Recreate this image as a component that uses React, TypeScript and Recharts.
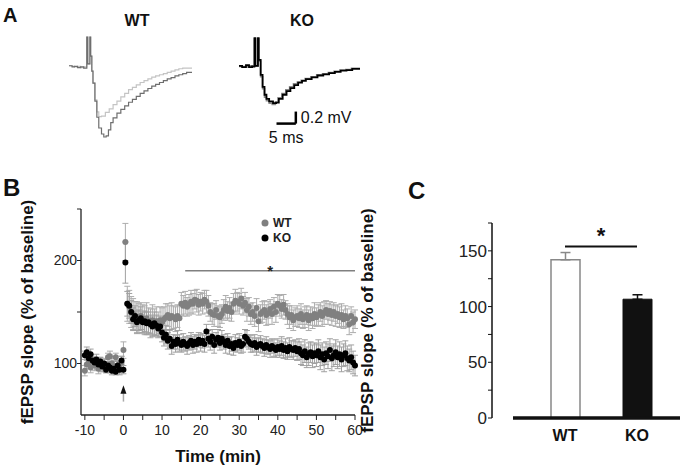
import React from 'react';
import {
  LineChart, Line, ScatterChart, Scatter, BarChart, Bar, ErrorBar, XAxis, YAxis,
  ReferenceLine, ReferenceDot, Legend,
} from 'recharts';

const FONT = '"Liberation Sans", Arial, Helvetica, sans-serif';

// ---- Panel A: example fEPSP traces, [time (ms), voltage (mV)] ----
const wtTraceLight: number[][] = [
  [-4.4, -0.01], [-3.6, -0.02], [-3.0, -0.03], [-2.2, -0.02], [-1.4, -0.04], [-0.6, -0.03],
  [0.2, 0.47], [0.45, 0.02], [1.0, 0.47], [1.2, 0.15], [1.5, -0.1], [1.8, -0.3], [2.3, -0.58],
  [2.8, -0.78], [3.3, -0.86], [4.0, -0.85], [5, -0.79], [6, -0.73], [7, -0.66], [8, -0.6],
  [9, -0.53], [10, -0.47], [11, -0.41], [12, -0.37], [13, -0.33], [14, -0.29], [15, -0.26],
  [16, -0.23], [17, -0.2], [18, -0.18], [19, -0.16], [20, -0.14], [21, -0.12], [22, -0.1],
  [23, -0.08], [24, -0.06], [25, -0.05], [26, -0.05], [27.4, -0.04],
];
const wtTraceGray: number[][] = [
  [-4.4, -0.01], [-3.6, -0.03], [-3.0, -0.02], [-2.2, -0.04], [-1.4, -0.03], [-0.6, -0.05],
  [0.2, 0.47], [0.45, 0.02], [1.0, 0.47], [1.2, 0.15], [1.5, -0.1], [1.8, -0.3], [2.3, -0.6],
  [2.8, -0.87], [3.3, -1.05], [4.0, -1.15], [4.6, -1.2], [5.2, -1.18], [5.8, -1.08], [6.4, -0.96],
  [7, -0.88], [8, -0.8], [9, -0.74], [10, -0.68], [11, -0.62], [12, -0.57], [13, -0.52],
  [14, -0.47], [15, -0.43], [16, -0.39], [17, -0.35], [18, -0.32], [19, -0.29], [20, -0.26],
  [21, -0.23], [22, -0.21], [23, -0.18], [24, -0.16], [25, -0.14], [26, -0.12], [27.4, -0.11],
];
const koTraceGray: number[][] = [
  [-3.8, -0.01], [-3.0, -0.01], [-2.0, -0.02], [-1.2, 0.0], [-0.4, -0.02], [0.2, 0.45],
  [0.45, 0.0], [1.1, 0.45], [1.3, 0.08], [1.8, -0.18], [2.3, -0.38], [2.8, -0.52], [3.3, -0.58],
  [4.0, -0.62], [4.8, -0.64], [5.6, -0.6], [6.3, -0.53], [7.3, -0.46], [8.3, -0.4], [9.3, -0.35],
  [10.3, -0.3], [11.3, -0.27], [12.3, -0.24], [13.3, -0.21], [14.8, -0.18], [16.3, -0.15],
  [17.8, -0.13], [19.3, -0.11], [20.8, -0.09], [22.3, -0.07], [23.8, -0.06], [25.3, -0.04],
  [27.5, -0.03],
];
const koTraceBlack: number[][] = [
  [-3.8, 0.0], [-3.0, -0.02], [-2.0, 0.01], [-1.2, -0.02], [-0.4, -0.01], [0.2, 0.46],
  [0.45, 0.0], [1.1, 0.46], [1.3, 0.1], [1.8, -0.15], [2.3, -0.35], [2.8, -0.48], [3.3, -0.55],
  [4.0, -0.59], [5.0, -0.62], [5.8, -0.61], [6.5, -0.55], [7.5, -0.48], [8.5, -0.42], [9.5, -0.37],
  [10.5, -0.32], [11.5, -0.28], [12.5, -0.25], [13.5, -0.22], [15, -0.19], [16.5, -0.16],
  [18, -0.14], [19.5, -0.12], [21, -0.1], [22.5, -0.08], [24, -0.07], [25.5, -0.05], [27.5, -0.05],
];
// scale bar: 5 ms x 0.2 mV
const scaleBarStart = 5.9;
const scaleBarMs = 5;
const scaleBarMv = 0.2;
const scaleBarLevel = -0.96;

// ---- Panel B: fEPSP slope (% of baseline), one sample every 0.5 min from -10 min ----
const firstMinute = -10;
const sampleStep = 0.5;
const wtSlope = [
  93, 99, 101, 96, 103, 98, 100, 95, 102, 97, 99, 96, 106, 107, 100, 97, 106, 98, 96, 101, 113,
  218, 158, 155, 150, 148, 146, 145, 144, 146, 143,
  142, 144, 141, 139, 142, 140, 141, 138, 142, 140,
  143, 145, 147, 144, 146, 145, 143, 146, 144, 158,
  156, 159, 155, 157, 160, 158, 162, 161, 157, 160,
  158, 162, 160, 156, 150, 148, 147, 152, 146, 145,
  148, 152, 155, 151, 154, 150, 158, 161, 160, 158,
  163, 156, 159, 152, 155, 148, 150, 146, 154, 141,
  148, 150, 152, 147, 149, 153, 148, 155, 150, 158,
  156, 153, 157, 152, 148, 145, 147, 142, 145, 146,
  144, 148, 143, 145, 147, 142, 146, 144, 148, 145,
  147, 150, 146, 149, 152, 148, 151, 147, 150, 146,
  148, 145, 147, 143, 146, 144, 138, 146, 140, 143,
];
const wtSem = [
  5, 4, 6, 5, 4, 5, 6, 5, 4, 5, 6, 5, 4, 5, 5, 6, 4, 5, 5, 6, 8,
  18, 17, 16, 15, 15, 14, 15, 14, 13, 14,
  14, 15, 13, 14, 15, 13, 14, 12, 13, 14,
  12, 13, 11, 12, 13, 11, 12, 11, 12, 11,
  10, 11, 9, 10, 11, 10, 9, 11, 10, 9,
  10, 9, 11, 10, 9, 10, 11, 9, 10, 10,
  9, 10, 11, 9, 10, 9, 10, 11, 9, 10,
  10, 9, 10, 11, 9, 10, 9, 10, 9, 10,
  9, 10, 9, 10, 11, 9, 10, 9, 10, 9,
  10, 9, 10, 9, 10, 11, 9, 10, 9, 10,
  9, 10, 9, 10, 9, 10, 9, 10, 11, 9,
  10, 9, 10, 11, 9, 10, 9, 10, 9, 10,
  9, 10, 11, 9, 10, 9, 10, 9, 10, 9,
];
const koSlope = [
  108, 111, 105, 109, 103, 101, 104, 99, 102, 97, 100, 94, 98, 96, 93, 95, 92, 98, 94, 103, 94,
  198, 158, 156, 150, 143, 146, 140, 142, 144, 140,
  141, 139, 140, 138, 136, 139, 137, 134, 136, 130,
  125, 128, 122, 124, 117, 121, 119, 123, 120, 118,
  121, 119, 117, 120, 122, 118, 121, 119, 123, 120,
  122, 119, 131, 124, 121, 126, 118, 123, 125, 120,
  124, 121, 118, 122, 117, 119, 115, 120, 118, 121,
  117, 119, 126, 124, 121, 119, 118, 120, 116, 118,
  119, 117, 115, 118, 116, 114, 117, 115, 113, 116,
  114, 117, 113, 115, 112, 116, 114, 113, 115, 112,
  114, 110, 108, 112, 106, 109, 111, 107, 110, 108,
  112, 106, 109, 104, 110, 107, 113, 105, 108, 111,
  106, 109, 104, 108, 110, 105, 103, 106, 101, 98,
];
const koSem = [
  4, 5, 4, 5, 3, 4, 5, 4, 4, 5, 4, 3, 4, 5, 4, 4, 3, 4, 5, 4, 4,
  20, 12, 12, 11, 11, 10, 11, 10, 11, 10,
  10, 11, 10, 9, 10, 11, 10, 9, 10, 9,
  8, 9, 8, 9, 8, 7, 8, 9, 8, 7,
  8, 7, 8, 7, 8, 8, 7, 8, 7, 8,
  7, 8, 7, 8, 8, 7, 8, 7, 8, 7,
  8, 7, 8, 7, 8, 7, 7, 8, 7, 8,
  7, 8, 7, 8, 7, 8, 7, 8, 8, 7,
  8, 7, 8, 8, 7, 8, 7, 8, 7, 8,
  8, 9, 8, 9, 8, 9, 8, 9, 8, 9,
  10, 11, 10, 11, 10, 11, 10, 11, 10, 11,
  11, 12, 11, 12, 11, 12, 11, 12, 11, 12,
  11, 12, 12, 11, 12, 12, 11, 12, 11, 10,
];
const bXTicks = [-10, -5, 0, 5, 10, 15, 20, 25, 30, 35, 40, 45, 50, 55, 60];
const bYTicks = [100, 150, 200, 250];
const bSigFrom = 16;
const bSigTo = 60;
const bSigLevel = 190;

// ---- Panel C: mean fEPSP slope 55-60 min ----
const groups = ['WT', 'KO'];
const groupMean = [142, 106.6];
const groupSem = [6.5, 4];
const cYTicks = [0, 25, 50, 75, 100, 125, 150, 175];
const cSigLevel = 154;

const toXY = (arr: number[][]) => arr.map(([t, v]) => ({ t, v }));
const slopePoints = (vals: number[], sems: number[]) =>
  vals.map((v, i) => ({ t: firstMinute + i * sampleStep, v, err: sems[i] }));

const wtPoints = slopePoints(wtSlope, wtSem);
const koPoints = slopePoints(koSlope, koSem);

const cData = groups.map((name, i) => ({
  name,
  wt: name === 'WT' ? groupMean[i] : undefined,
  wtErr: name === 'WT' ? [0, groupSem[i]] : undefined,
  ko: name === 'KO' ? groupMean[i] : undefined,
  koErr: name === 'KO' ? [0, groupSem[i]] : undefined,
}));

const dot = (color: string) => (p: any) => <circle cx={p.cx} cy={p.cy} r={3} fill={color} />;

const arrowHead = (p: any) => (
  <polygon points={`${p.cx},${p.cy - 4} ${p.cx - 3},${p.cy + 4.5} ${p.cx + 3},${p.cy + 4.5}`} fill="#111" />
);

function BLegend({ payload }: any) {
  const items = [...(payload || [])].sort(
    (a: any, b: any) => groups.indexOf(a.value) - groups.indexOf(b.value),
  );
  return (
    <div style={{ fontFamily: FONT, fontWeight: 'bold', fontSize: 12, color: '#222' }}>
      {items.map((entry: any) => (
        <div key={entry.value} style={{ display: 'flex', alignItems: 'center', height: 15.4 }}>
          <svg width={10} height={10}>
            <circle cx={5} cy={5} r={3.5} fill={entry.color} />
          </svg>
          <span style={{ marginLeft: 3 }}>{entry.value}</span>
        </div>
      ))}
    </div>
  );
}

const text = (size: number, bold = true): React.CSSProperties => ({
  position: 'absolute', fontFamily: FONT, fontSize: size, fontWeight: bold ? 'bold' : 'normal',
  lineHeight: 1, color: '#111', whiteSpace: 'nowrap',
});

export default function App() {
  return (
    <div style={{ position: 'fixed', left: 0, top: 0, width: 685, height: 476, background: '#fff', overflow: 'hidden' }}>
      <div style={{ ...text(20), left: 3, top: 5 }}>A</div>
      <div style={{ ...text(24), left: 3, top: 176 }}>B</div>
      <div style={{ ...text(24), left: 408, top: 179 }}>C</div>
      <div style={{ ...text(16), left: 137, top: 13, transform: 'translateX(-50%)' }}>WT</div>
      <div style={{ ...text(16), left: 302, top: 13, transform: 'translateX(-50%)' }}>KO</div>

      {/* A: WT traces */}
      <div style={{ position: 'absolute', left: 69, top: 36 }}>
        <LineChart width={123} height={105} margin={{ top: 1, right: 0, bottom: 1, left: 0 }}>
          <XAxis type="number" dataKey="t" domain={[-4.4, 27.4]} hide />
          <YAxis type="number" dataKey="v" domain={[-1.25, 0.47]} hide />
          <Line data={toXY(wtTraceLight)} dataKey="v" type="stepAfter" stroke="#c4c4c4" strokeWidth={1.2} dot={false} isAnimationActive={false} />
          <Line data={toXY(wtTraceGray)} dataKey="v" type="stepAfter" stroke="#6e6e6e" strokeWidth={1.2} dot={false} isAnimationActive={false} />
        </LineChart>
      </div>

      {/* A: KO traces + scale bar */}
      <div style={{ position: 'absolute', left: 239, top: 36 }}>
        <LineChart width={121} height={114} margin={{ top: 1, right: 0, bottom: 24, left: 0 }}>
          <XAxis type="number" dataKey="t" domain={[-3.8, 27.5]} hide />
          <YAxis type="number" dataKey="v" domain={[-1.0, 0.48]} hide />
          <Line data={toXY(koTraceGray)} dataKey="v" type="stepAfter" stroke="#8a8a8a" strokeWidth={1.6} dot={false} isAnimationActive={false} />
          <Line data={toXY(koTraceBlack)} dataKey="v" type="stepAfter" stroke="#000" strokeWidth={1.8} dot={false} isAnimationActive={false} />
          <ReferenceLine
            segment={[{ x: scaleBarStart, y: scaleBarLevel }, { x: scaleBarStart + scaleBarMs, y: scaleBarLevel }]}
            stroke="#000" strokeWidth={2.5}
            label={{ value: '5 ms', position: 'bottom', offset: 8, fill: '#111', fontSize: 16, fontFamily: FONT }}
          />
          <ReferenceLine
            segment={[{ x: scaleBarStart + scaleBarMs, y: scaleBarLevel }, { x: scaleBarStart + scaleBarMs, y: scaleBarLevel + scaleBarMv }]}
            stroke="#000" strokeWidth={2.5}
            label={{ value: '0.2 mV', position: 'right', offset: 5, fill: '#111', fontSize: 16, fontFamily: FONT }}
          />
        </LineChart>
      </div>

      {/* B: time course */}
      <div style={{ position: 'absolute', left: 0, top: 195 }}>
        <ScatterChart width={372} height={281} margin={{ top: 14, right: 17, bottom: 11, left: 11 }}>
          <XAxis
            type="number" dataKey="t" domain={[-11, 60]} ticks={bXTicks} interval={0}
            tickFormatter={(v: number) => (v % 10 === 0 ? String(v) : '')}
            height={50} tickSize={5} tickMargin={5}
            axisLine={{ stroke: '#222', strokeWidth: 1.3 }} tickLine={{ stroke: '#222' }}
            tick={{ fill: '#222', fontSize: 14, fontFamily: FONT }}
            label={{ value: 'Time (min)', position: 'insideBottom', offset: 3, fill: '#111', style: { fontWeight: 'bold', fontSize: 17, fontFamily: FONT } }}
          />
          <YAxis
            type="number" dataKey="v" domain={[50, 250]} ticks={bYTicks} interval={0}
            tickFormatter={(v: number) => (v === 100 || v === 200 ? String(v) : '')}
            width={70} tickSize={4} tickMargin={0}
            axisLine={{ stroke: '#222', strokeWidth: 1.3 }} tickLine={{ stroke: '#222' }}
            tick={{ fill: '#222', fontSize: 14, fontFamily: FONT }}
            label={{ value: 'fEPSP slope (% of baseline)', angle: -90, position: 'insideLeft', offset: 16, fill: '#111', style: { textAnchor: 'middle', fontWeight: 'bold', fontSize: 17, fontFamily: FONT } }}
          />
          <Legend layout="vertical" align="center" verticalAlign="middle" content={<BLegend />}
            wrapperStyle={{ position: 'absolute', left: 260, top: 20, width: 60 }} />
          <ReferenceLine
            segment={[{ x: bSigFrom, y: bSigLevel }, { x: bSigTo, y: bSigLevel }]}
            stroke="#808080" strokeWidth={1.5}
            label={{ value: '*', position: 'center', fill: '#222', fontSize: 15, fontWeight: 'bold', fontFamily: FONT }}
          />
          <ReferenceLine segment={[{ x: 0, y: 63 }, { x: 0, y: 71 }]} stroke="#aaa" strokeWidth={1.5} />
          <ReferenceDot x={0} y={75} shape={arrowHead} />
          <Scatter name="WT" data={wtPoints} fill="#808080" shape={dot('#808080')} isAnimationActive={false}>
            <ErrorBar dataKey="err" direction="y" width={3} stroke="#adadad" strokeWidth={1} />
          </Scatter>
          <Scatter name="KO" data={koPoints} fill="#000" shape={dot('#000')} isAnimationActive={false}>
            <ErrorBar dataKey="err" direction="y" width={3} stroke="#a0a0a0" strokeWidth={1} />
          </Scatter>
        </ScatterChart>
      </div>

      {/* C: summary bars */}
      <div style={{ position: 'absolute', left: 340, top: 200 }}>
        <BarChart width={345} height={276} data={cData} margin={{ top: 23, right: 5, bottom: 18, left: 22 }}>
          <XAxis
            dataKey="name" padding={{ left: 16, right: 7 }} height={40} tickSize={6} tickMargin={6}
            axisLine={{ stroke: '#111', strokeWidth: 3.5 }} tickLine={false}
            tick={{ fill: '#111', fontSize: 16, fontWeight: 'bold', fontFamily: FONT }}
          />
          <YAxis yAxisId="a" domain={[0, 175]} width={21} axisLine={false} tickLine={false} tick={false} />
          <YAxis
            yAxisId="b" type="number" domain={[0, 175]} ticks={cYTicks} interval={0}
            tickFormatter={(v: number) => (v % 50 === 0 ? String(v) : '')}
            width={130} tickSize={4} tickMargin={1}
            axisLine={{ stroke: '#111', strokeWidth: 1.5 }} tickLine={{ stroke: '#111' }}
            tick={{ fill: '#222', fontSize: 17, fontFamily: FONT }}
            label={{ value: 'fEPSP slope (% of baseline)', angle: -90, position: 'insideLeft', offset: 5, fill: '#111', style: { textAnchor: 'middle', fontWeight: 'bold', fontSize: 17, fontFamily: FONT } }}
          />
          <Bar yAxisId="b" dataKey="wt" stackId="s" barSize={29} fill="#fff" stroke="#888" strokeWidth={1.5} isAnimationActive={false}>
            <ErrorBar dataKey="wtErr" direction="y" width={5} stroke="#888" strokeWidth={1.5} />
          </Bar>
          <Bar yAxisId="b" dataKey="ko" stackId="s" barSize={29} fill="#111" stroke="#111" strokeWidth={1} isAnimationActive={false}>
            <ErrorBar dataKey="koErr" direction="y" width={5} stroke="#111" strokeWidth={1.5} />
          </Bar>
          <ReferenceLine
            yAxisId="b"
            segment={[{ x: groups[0], y: cSigLevel }, { x: groups[1], y: cSigLevel }]}
            stroke="#111" strokeWidth={2}
            label={{ value: '*', position: 'top', offset: 3, fill: '#111', fontSize: 22, fontWeight: 'bold', fontFamily: FONT }}
          />
        </BarChart>
      </div>
    </div>
  );
}
